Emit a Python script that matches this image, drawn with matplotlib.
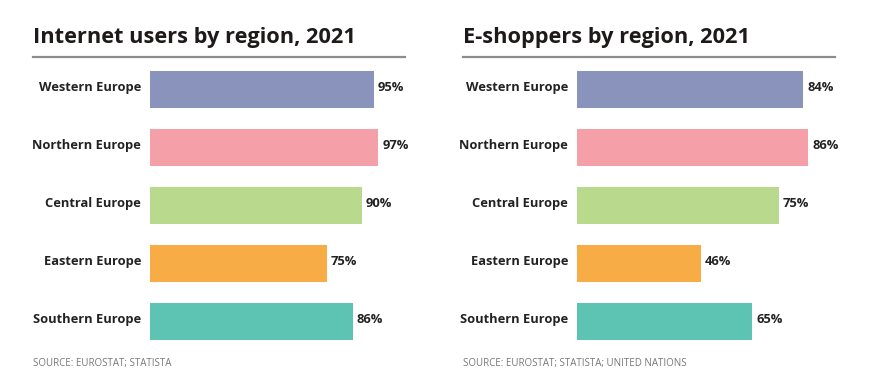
import matplotlib.pyplot as plt

plt.rcParams['font.family'] = ['Open Sans', 'DejaVu Sans']

regions = ['Western Europe', 'Northern Europe', 'Central Europe', 'Eastern Europe', 'Southern Europe']
internet_users = [95, 97, 90, 75, 86]
e_shoppers = [84, 86, 75, 46, 65]
bar_colors = ['#8a93bb', '#f5a0a8', '#b9da8c', '#f7ac46', '#5dc4b3']

titles = ['Internet users by region, 2021', 'E-shoppers by region, 2021']
sources = ['SOURCE: EUROSTAT; STATISTA', 'SOURCE: EUROSTAT; STATISTA; UNITED NATIONS']

W, H = 896, 390
fig = plt.figure(figsize=(W / 100, H / 100), dpi=100)

# panel geometry in pixels: (bar start x, px per percent, title x, rule end x)
panels = [(150, 2.355, 33, 405), (577, 2.69, 463, 835)]
datasets = [internet_users, e_shoppers]

for (x0, scale, tx, rx), values, title, src in zip(panels, datasets, titles, sources):
    ax = fig.add_axes([x0 / W, (H - 350.5) / H, 100 * scale / W, 290 / H])
    ax.barh(range(len(regions)), values, height=0.64, color=bar_colors)
    ax.set_xlim(0, 100)
    ax.set_ylim(4.5, -0.5)
    ax.set_xticks([])
    ax.set_yticks([])
    for s in ax.spines.values():
        s.set_visible(False)
    for i, (name, v) in enumerate(zip(regions, values)):
        # category label left of the bar
        ax.annotate(name, xy=(0, i), xycoords=('axes fraction', 'data'),
                    xytext=(-6.5, 1.5), textcoords='offset points',
                    ha='right', va='center', fontsize=9.3, fontweight='bold',
                    color='#222222')
        # value label right of the bar
        ax.annotate(f'{v}%', xy=(v, i), xytext=(3, 1.5), textcoords='offset points',
                    ha='left', va='center', fontsize=9.3, fontweight='bold',
                    color='#222222')

    fig.text(tx / W, (H - 43) / H, title, fontsize=15.7, fontweight='bold',
             color='#1e1a1a', ha='left', va='baseline')
    fig.add_artist(plt.Line2D([tx / W, rx / W], [(H - 56.5) / H] * 2,
                              color='#8c8c8c', lw=1.6))
    fig.text(tx / W, (H - 366) / H, src, fontsize=7, color='#777777',
             ha='left', va='baseline')

fig.savefig('out.png', dpi=100, facecolor='white')
